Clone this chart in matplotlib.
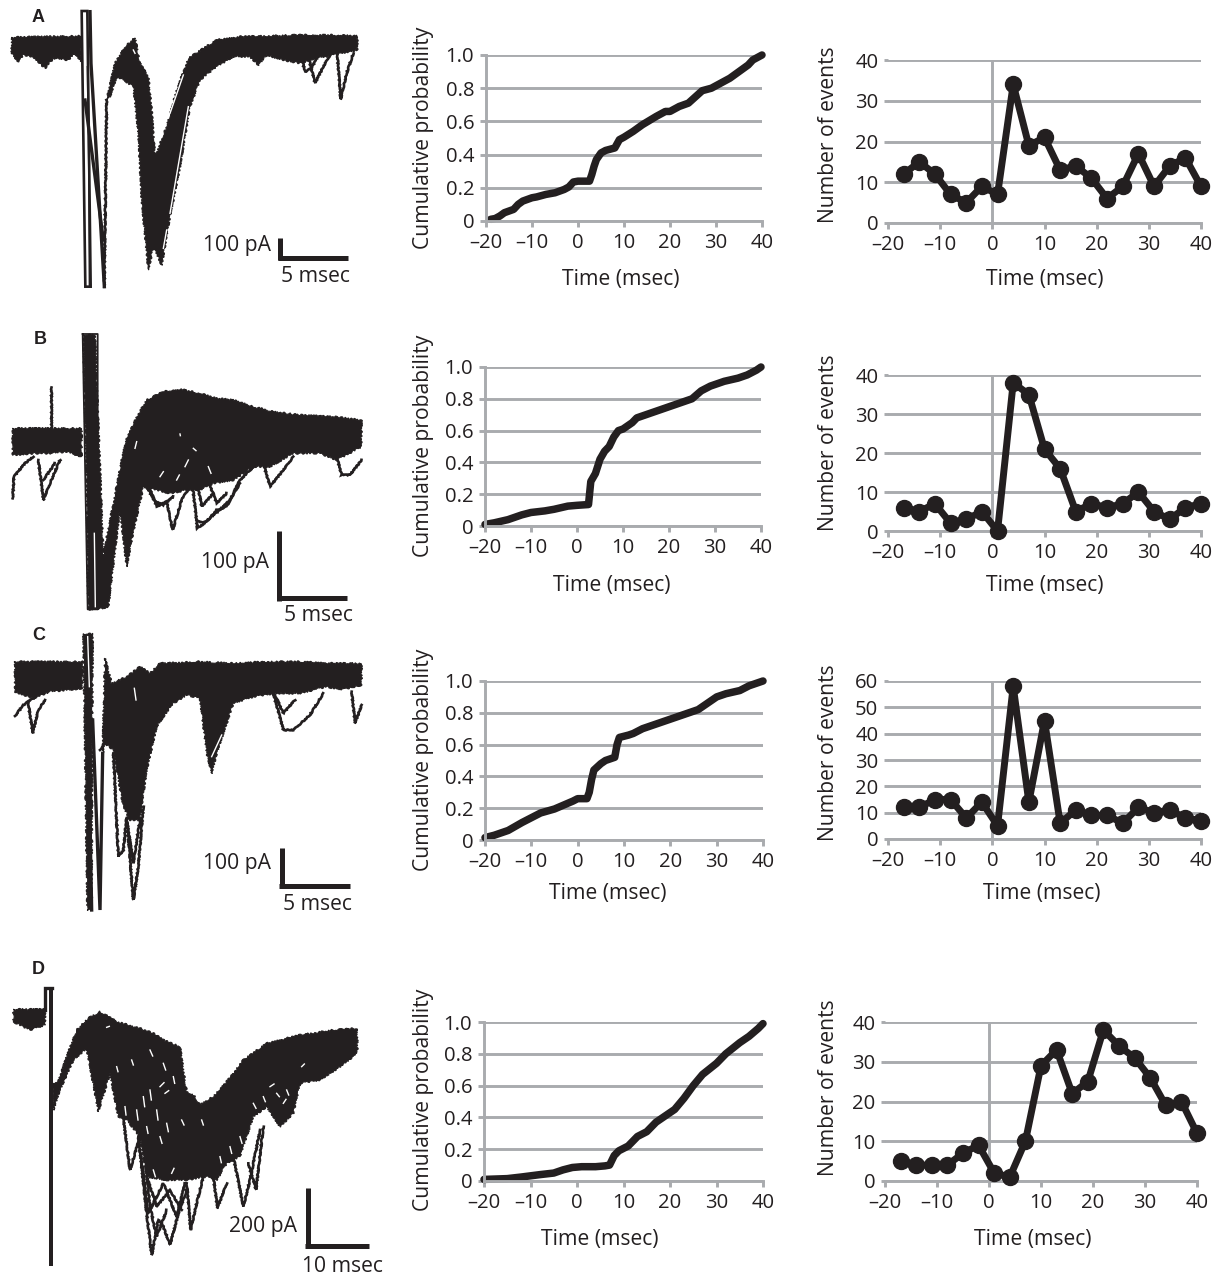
#!/usr/bin/env python3
"""Evoked current traces with cumulative probability and event count panels."""

import matplotlib
matplotlib.use("Agg")
import matplotlib.pyplot as plt

FIG_W, FIG_H = 1220, 1279
INK = "#231f20"
GRID = "#a9abae"
TICK_SIZE = 14.6

plt.rcParams.update({
    "font.family": ["Open Sans", "DejaVu Sans"],
    "font.size": 15.2,
    "text.color": INK,
    "axes.labelcolor": INK,
    "xtick.labelcolor": INK,
    "ytick.labelcolor": INK,
})

ROWS = ["A", "B", "C", "D"]

# cumulative probability curves
CUM_A_T = [-19, -18, -17, -16, -14, -13, -12, -10, -9, -7, -5, -3, -2, -1, 0, 2.5, 3, 3.5, 4, 5, 6, 8, 9, 10,
           12, 14, 17, 19, 20, 22, 24, 26, 27, 29, 31, 33, 35, 37, 38, 40]
CUM_A_P = [.01, .015, .03, .05, .07, .10, .12, .14, .145, .16, .17, .19, .205, .235, .24, .24, .28, .33, .37,
           .41, .425, .44, .49, .505, .54, .58, .63, .66, .66, .69, .71, .76, .785, .80, .83, .86, .90, .94, .97, 1.0]
CUM_B_T = [-20, -18, -15, -12, -10, -7, -5, -2, 0, 2.5, 3, 4, 5, 6, 7, 8, 9, 10, 12, 13, 15, 17, 20, 22, 25,
           27, 29, 32, 35, 37, 39, 40]
CUM_B_P = [.01, .02, .04, .07, .085, .095, .105, .125, .13, .135, .28, .33, .42, .47, .50, .56, .60, .61, .65,
           .68, .70, .72, .75, .77, .80, .85, .88, .91, .93, .95, .98, 1.0]
CUM_C_T = [-20, -18, -15, -12, -10, -8, -5, -3, -1, 0, 2, 2.5, 3, 3.5, 5, 6, 8, 8.5, 9, 11, 12, 14, 16, 20, 23,
           26, 28, 30, 32, 35, 37, 39, 40]
CUM_C_P = [.015, .03, .06, .11, .14, .17, .195, .22, .245, .26, .26, .30, .38, .44, .48, .50, .52, .60, .645,
           .66, .67, .70, .72, .76, .79, .82, .86, .90, .92, .94, .97, .99, 1.0]
CUM_D_T = [-20, -15, -12, -8, -5, -3, -1, 1, 4, 6, 7, 8, 9, 11, 13, 15, 17, 19, 21, 23, 25, 27, 30, 32, 35, 37,
           39, 40]
CUM_D_P = [.01, .015, .025, .04, .05, .07, .085, .09, .09, .095, .10, .16, .19, .22, .28, .31, .37, .41, .45,
           .52, .60, .67, .74, .80, .87, .91, .96, .99]

# event counts
EVENT_T = [-17, -14, -11, -8, -5, -2, 1, 4, 7, 10, 13, 16, 19, 22, 25, 28, 31, 34, 37, 40]
EVENT_A = [12, 15, 12, 7, 5, 9, 7, 34, 19, 21, 13, 14, 11, 6, 9, 17, 9, 14, 16, 9]
EVENT_B = [6, 5, 7, 2, 3, 5, 0, 38, 35, 21, 16, 5, 7, 6, 7, 10, 5, 3, 6, 7]
EVENT_C = [12, 12, 15, 15, 8, 14, 5, 58, 14, 45, 6, 11, 9, 9, 6, 12, 10, 11, 8, 7]
EVENT_D = [5, 4, 4, 4, 7, 9, 2, 1, 10, 29, 33, 22, 25, 38, 34, 31, 26, 19, 20, 12]

# Current traces: filled envelopes (solid clouds of sweeps) and the single sweeps
# that stick out of them. Units are arbitrary trace units of each panel.
BASE_A = [(35, 112), (245, 108), (245, 185), (225, 160), (205, 180), (160, 175), (135, 205), (100, 170), (70, 165),
          (55, 185), (35, 160)]
MAIN_A = [(320, 300), (345, 190), (375, 140), (405, 113), (420, 190), (445, 230), (455, 330), (465, 470), (500, 380),
          (530, 270), (565, 175), (610, 145), (650, 120), (720, 110), (800, 108), (900, 105), (1000, 105), (1072, 108),
          (1072, 150), (1000, 165), (950, 175), (900, 190), (850, 180), (800, 165), (775, 195), (750, 170), (700, 170),
          (650, 200), (600, 240), (570, 320), (540, 500), (510, 650), (485, 795), (460, 740), (445, 810), (425, 600),
          (415, 400), (400, 260), (370, 240), (350, 230), (330, 290)]
EVENTS_A = [
    [(905, 175), (915, 215), (935, 205), (950, 175)],
    [(925, 170), (945, 250), (970, 200), (990, 165)],
    [(1012, 165), (1022, 298), (1040, 220), (1060, 160)],
    [(313, 860), (320, 300)],
]
ARTIFACT_A = [[(245, 33), (262, 33), (272, 860), (256, 860)]]
SWEEP_A = [[(270, 35), (273, 190), (313, 860)], [(255, 300), (310, 720)]]
GAPS_A = [[(510, 340), (550, 225)], [(510, 640), (565, 320)], [(400, 150), (405, 160)], [(490, 745), (500, 690)]]

BASE_B = [(38, 325), (245, 325), (245, 410), (200, 395), (150, 400), (100, 400), (38, 405)]
MAIN_B = [(250, 45), (285, 45), (310, 705), (375, 370), (410, 290), (440, 240), (490, 215), (540, 207), (600, 220),
          (650, 235), (700, 240), (760, 260), (820, 275), (900, 285), (1000, 290), (1085, 300), (1085, 380), (1010, 420),
          (960, 400), (880, 400), (810, 440), (760, 440), (700, 480), (640, 490), (600, 510), (560, 510), (510, 520),
          (470, 510), (430, 500), (395, 660), (380, 740), (360, 570), (325, 860), (295, 868), (265, 868), (260, 500)]
EVENTS_B = [
    [(38, 535), (42, 470), (75, 430), (100, 410)],
    [(115, 420), (130, 540), (150, 490), (180, 420)],
    [(130, 480), (165, 430)],
    [(152, 200), (152, 320)],
    [(440, 480), (470, 560), (500, 545), (518, 630), (545, 540), (575, 490)],
    [(578, 500), (592, 625), (620, 605), (650, 570), (680, 560), (720, 480), (770, 430)],
    [(590, 480), (605, 560), (640, 520)],
    [(440, 500), (465, 545), (490, 555), (520, 530)],
    [(590, 600), (610, 610), (660, 570), (690, 540), (720, 490)],
    [(620, 470), (650, 550), (680, 520)],
    [(790, 430), (810, 500), (850, 450), (880, 410)],
    [(1010, 410), (1025, 465), (1050, 465), (1085, 420)],
]
ARTIFACT_B = [[(248, 42), (293, 42), (293, 868), (263, 868)]]
SWEEP_B = []
GAPS_B = [[(283, 640), (286, 860)], [(405, 385), (410, 365)], [(580, 385), (588, 392)], [(540, 342), (541, 347)],
          [(480, 470), (490, 455)], [(530, 480), (538, 465)], [(555, 440), (565, 420)], [(625, 440), (633, 460)]]

BASE_C = [(45, 125), (248, 125), (248, 205), (200, 210), (150, 215), (100, 235), (45, 215)]
MAIN_C = [(308, 400), (315, 115), (335, 190), (380, 170), (420, 140), (450, 160), (480, 130), (600, 125), (700, 130),
          (800, 125), (900, 125), (1000, 130), (1085, 130), (1085, 195), (1020, 210), (980, 200), (900, 220), (830, 220),
          (760, 230), (700, 250), (680, 310), (650, 400), (635, 460), (620, 400), (600, 235), (560, 225), (520, 250),
          (490, 290), (470, 320), (440, 450), (420, 600), (390, 600), (370, 560), (340, 390), (315, 370)]
EVENTS_C = [
    [(45, 288), (70, 255), (100, 235)],
    [(85, 250), (98, 340), (115, 270), (135, 240)],
    [(340, 400), (355, 710), (370, 690), (380, 590), (400, 840), (415, 740), (430, 560)],
    [(380, 600), (400, 730), (420, 600)],
    [(820, 220), (850, 330), (880, 330), (930, 285), (970, 220)],
    [(825, 225), (850, 280), (885, 240)],
    [(1055, 215), (1065, 310), (1085, 255)],
    [(300, 390), (330, 350)],
]
ARTIFACT_C = [[(250, 42), (278, 42), (275, 870), (262, 870)]]
SWEEP_C = [[(278, 300), (300, 870), (308, 400)], [(264, 300), (275, 870)]]
GAPS_C = [[(263, 50), (268, 200)], [(403, 205), (408, 240)], [(635, 410), (665, 345)]]

BASE_D = [(40, 178), (135, 178), (135, 225), (90, 240), (40, 215)]
MAIN_D = [(158, 400), (175, 395), (200, 320), (230, 240), (265, 205), (300, 185), (350, 215), (420, 235), (460, 250),
          (490, 270), (540, 290), (560, 425), (585, 440), (600, 465), (640, 440), (680, 395), (730, 330), (800, 280),
          (900, 255), (1000, 240), (1072, 235), (1072, 310), (1020, 350), (960, 390), (900, 400), (880, 490), (840, 530),
          (800, 470), (760, 500), (720, 620), (680, 640), (650, 690), (620, 680), (560, 690), (500, 690), (440, 680),
          (420, 560), (380, 510), (355, 500), (330, 370), (295, 485), (260, 295), (220, 330), (180, 420), (160, 480)]
EVENTS_D = [
    [(360, 430), (390, 660), (420, 560)],
    [(415, 560), (440, 790), (455, 915), (475, 810), (490, 830), (510, 885), (535, 790), (560, 720)],
    [(430, 560), (450, 770), (470, 860), (500, 780)],
    [(560, 700), (572, 840), (590, 760), (610, 680)],
    [(640, 680), (652, 775), (680, 700)],
    [(700, 620), (730, 770), (750, 690), (780, 540)],
    [(745, 640), (768, 720), (790, 530)],
    [(420, 600), (445, 790), (490, 700), (530, 800), (555, 700)],
    [(440, 680), (470, 770), (510, 720), (545, 780)],
]
SWEEP_D = [[(135, 180), (135, 113), (157, 113)]]
COLUMN_D = [(147, 113), (160, 113), (160, 948), (147, 948)]
GAPS_D = [[(490, 340), (497, 360)], [(480, 410), (492, 398)], [(495, 430), (506, 422)], [(450, 420), (454, 450)],
          [(605, 510), (610, 525)], [(545, 510), (552, 525)], [(410, 480), (414, 510)], [(480, 560), (486, 580)],
          [(460, 660), (466, 680)], [(515, 670), (522, 655)], [(850, 460), (858, 448)], [(810, 410), (822, 402)],
          [(905, 350), (913, 342)], [(660, 620), (664, 638)], [(320, 232), (328, 229)], [(375, 470), (378, 495)],
          [(430, 440), (434, 470)], [(520, 380), (524, 400)], [(470, 480), (474, 510)], [(500, 520), (505, 545)],
          [(440, 530), (444, 550)], [(790, 440), (796, 455)], [(830, 430), (838, 440)], [(860, 420), (866, 435)],
          [(760, 460), (768, 475)], [(720, 560), (726, 580)], [(690, 590), (695, 610)], [(450, 300), (458, 318)],
          [(395, 330), (400, 345)], [(350, 350), (354, 365)]]

# scale bars: vertical bar, horizontal bar, then the two captions
BAR_A = ([(841, 715), (841, 780)], [(835, 775), (1043, 775)], ("100 pA", 712, 735), ("5 msec", 945, 828))
BAR_B = ([(838, 632), (838, 842)], [(832, 835), (1042, 835)], ("100 pA", 705, 728), ("5 msec", 955, 888))
BAR_C = ([(845, 685), (845, 803)], [(838, 797), (1050, 797)], ("100 pA", 712, 732), ("5 msec", 952, 853))
BAR_D = ([(925, 715), (925, 895)], [(915, 888), (1108, 888)], ("200 pA", 788, 830), ("10 msec", 1028, 950))

LETTER_POS = [(38, 18), (40, 340), (39, 636), (38, 969)]


def add_axes_px(fig, left, top, right, bottom):
    return fig.add_axes([left / FIG_W, 1 - bottom / FIG_H, (right - left) / FIG_W, (bottom - top) / FIG_H])


def xs(points):
    return [p[0] for p in points]


def ys(points):
    return [p[1] for p in points]


def draw_traces(fig, rect, bands, events, sweeps, gaps, bar):
    left, top, w, h = rect
    ax = add_axes_px(fig, left, top, left + w, top + h)
    ax.set_xlim(0, w * 3)
    ax.set_ylim(h * 3, 0)
    ax.axis("off")
    for band in bands:
        patch = ax.fill(xs(band), ys(band), color=INK, lw=0.8)[0]
        patch.set_sketch_params(scale=0.9, length=3, randomness=4)
    for ev in events:
        line = ax.plot(xs(ev), ys(ev), color=INK, lw=1.9, solid_joinstyle="miter")[0]
        line.set_sketch_params(scale=0.5, length=3, randomness=4)
    for sw in sweeps:
        ax.plot(xs(sw), ys(sw), color=INK, lw=2.4, solid_joinstyle="miter")
    for gap in gaps:
        ax.plot(xs(gap), ys(gap), color="white", lw=1.0)
    vbar, hbar, cap1, cap2 = bar
    ax.plot(xs(vbar), ys(vbar), color=INK, lw=3.6, solid_capstyle="butt")
    ax.plot(xs(hbar), ys(hbar), color=INK, lw=3.6, solid_capstyle="butt")
    for text, x, y in (cap1, cap2):
        ax.text(x, y, text, ha="center", va="center", clip_on=False)
    return ax


def style_chart(ax, yticks, ylabels):
    ax.set_xlim(-20, 40)
    ax.set_ylim(yticks[0], yticks[-1])
    ax.set_xticks(range(-20, 41, 10))
    ax.set_xticklabels(["\u201320", "\u201310", "0", "10", "20", "30", "40"])
    ax.set_yticks(yticks)
    ax.set_yticklabels(ylabels)
    ax.grid(axis="y", color=GRID, lw=2.1)
    ax.set_axisbelow(True)
    for side in ("top", "right"):
        ax.spines[side].set_visible(False)
    for side in ("left", "bottom"):
        ax.spines[side].set_color(GRID)
        ax.spines[side].set_linewidth(2.1)
    ax.tick_params(axis="x", color=GRID, width=2.1, length=4.5, pad=4, labelsize=TICK_SIZE)
    ax.tick_params(axis="y", color=GRID, width=2.1, length=4.5, pad=4, labelsize=TICK_SIZE)
    ax.patch.set_alpha(0)


def draw_cumulative(fig, box, t, p):
    ax = add_axes_px(fig, *box)
    style_chart(ax, [0, 0.2, 0.4, 0.6, 0.8, 1.0], ["0", "0.2", "0.4", "0.6", "0.8", "1.0"])
    ax.plot(t, p, color=INK, lw=5.4, clip_on=False, solid_capstyle="round")


def draw_events(fig, box, counts, yticks):
    ax = add_axes_px(fig, *box)
    style_chart(ax, yticks, [str(v) for v in yticks])
    ax.spines["left"].set_visible(False)
    ax.tick_params(axis="y", length=3)
    ax.axvline(0, color=GRID, lw=2.1, zorder=1)
    ax.plot(EVENT_T, counts, "o-", color=INK, lw=5.0, ms=11.5, clip_on=False, zorder=3)


def main():
    fig = plt.figure(figsize=(FIG_W / 100, FIG_H / 100), dpi=100)

    a = draw_traces(fig, (0, 0, 370, 300), [BASE_A, MAIN_A], EVENTS_A, SWEEP_A, GAPS_A, BAR_A)
    a.fill(xs(ARTIFACT_A[0]), ys(ARTIFACT_A[0]), facecolor="white", edgecolor=INK, lw=1.9)
    a.plot([262, 266, 268], [200, 500, 860], color=INK, lw=1.0)

    b = draw_traces(fig, (0, 320, 370, 300), [BASE_B, MAIN_B], EVENTS_B, SWEEP_B, GAPS_B, BAR_B)
    b.plot(xs(ARTIFACT_B[0]) + [248], ys(ARTIFACT_B[0]) + [42], color=INK, lw=1.3)

    draw_traces(fig, (0, 620, 370, 300), [BASE_C, MAIN_C, ARTIFACT_C[0]], EVENTS_C, SWEEP_C, GAPS_C, BAR_C)

    d = draw_traces(fig, (0, 950, 390, 329), [BASE_D, MAIN_D], EVENTS_D, SWEEP_D, GAPS_D, BAR_D)
    d.fill(xs(COLUMN_D), ys(COLUMN_D), color=INK, lw=0)

    draw_cumulative(fig, (486, 55, 762, 221), CUM_A_T, CUM_A_P)
    draw_cumulative(fig, (485, 367, 761, 526), CUM_B_T, CUM_B_P)
    draw_cumulative(fig, (485, 681, 763, 840), CUM_C_T, CUM_C_P)
    draw_cumulative(fig, (484, 1022, 763, 1181), CUM_D_T, CUM_D_P)

    draw_events(fig, (888, 60, 1201, 223), EVENT_A, [0, 10, 20, 30, 40])
    draw_events(fig, (888, 375, 1201, 531), EVENT_B, [0, 10, 20, 30, 40])
    draw_events(fig, (888, 681, 1201, 839), EVENT_C, [0, 10, 20, 30, 40, 50, 60])
    draw_events(fig, (885, 1022, 1197, 1181), EVENT_D, [0, 10, 20, 30, 40])

    for (x, y), letter in zip(LETTER_POS, ROWS):
        fig.text(x / FIG_W, 1 - y / FIG_H, letter, family="Liberation Sans", weight="bold", size=13,
                 ha="center", va="center")

    for x, y in [(621, 279), (612, 586), (608, 893), (600, 1239), (1045, 279), (1045, 586), (1042, 893), (1033, 1239)]:
        fig.text(x / FIG_W, 1 - y / FIG_H, "Time (msec)", ha="center", va="center")
    for y in (138, 446, 760, 1100):
        fig.text(423 / FIG_W, 1 - y / FIG_H, "Cumulative probability", rotation=90, ha="center", va="center")
    for y in (135, 443, 753, 1088):
        fig.text(828 / FIG_W, 1 - y / FIG_H, "Number of events", rotation=90, ha="center", va="center")

    fig.savefig("out.png", dpi=100, facecolor="white")
    plt.close(fig)


if __name__ == "__main__":
    main()
